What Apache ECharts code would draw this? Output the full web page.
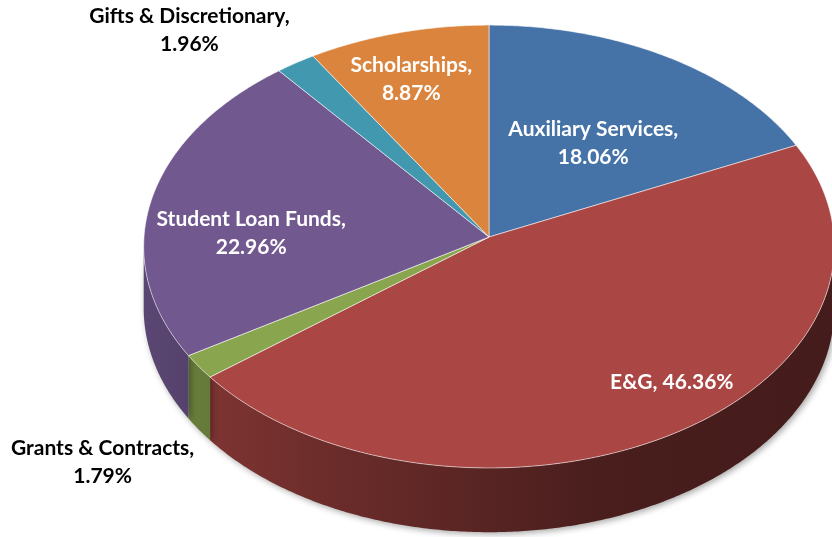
<!DOCTYPE html>
<html>
<head>
<meta charset="utf-8">
<script src="https://cdn.jsdelivr.net/npm/echarts@6/dist/echarts.min.js"></script>
<style>
  html, body { margin: 0; padding: 0; background: #fff; }
  #chart { width: 832px; height: 537px; }
</style>
</head>
<body>
<div id="chart"></div>
<script>
// Fund categories, clockwise from 12 o'clock
const categories = [
  'Auxiliary Services',
  'E&G',
  'Grants & Contracts',
  'Student Loan Funds',
  'Gifts & Discretionary',
  'Scholarships'
];
// Share of total, percent
const shares = [18.06, 46.36, 1.79, 22.96, 1.96, 8.87];

// Slice colours (top face); side walls are shaded from these
const colors = ['#4572A7', '#AA4643', '#89A54E', '#71588F', '#4198AF', '#DB843D'];

// Label placement around each slice: radius as a fraction of the disc,
// angular nudge (degrees) from the slice middle, and whether it sits inside
const labelPlacement = [
  { r: 0.53, nudge: 3.0,  inside: true,  oneLine: false },
  { r: 0.82, nudge: -7.4, inside: true,  oneLine: true  },
  { r: 1.45, nudge: -7.4, inside: false, oneLine: false },
  { r: 0.69, nudge: -8.2, inside: true,  oneLine: false },
  { r: 1.33, nudge: -7.4, inside: false, oneLine: false },
  { r: 0.77, nudge: -1.6, inside: true,  oneLine: false }
];

// Perspective view of the disc
const VIEW = {
  cx: 489,        // screen x of the disc centre
  cy: 237,        // screen y of the disc centre (top face)
  k: 345,         // horizontal radius scale
  kv: 221,        // vertical radius scale
  persp: 0.043,   // perspective strength (near side larger)
  depth: 61.5     // thickness of the disc
};

const total = shares.reduce((a, b) => a + b, 0);
const startAngles = [];
(function () {
  let acc = 0;
  shares.forEach(v => { startAngles.push(acc / total * 360); acc += v; });
})();

const rad = d => d * Math.PI / 180;

// Project a point on the disc (polar: r, angle clockwise from top) to the screen.
function project(r, deg, down) {
  const X = r * Math.sin(rad(deg));
  const Y = r * Math.cos(rad(deg));
  const w = 1 + VIEW.persp * Y;
  return [
    VIEW.cx + VIEW.k * X / w,
    VIEW.cy - VIEW.kv * Y / w + (down ? VIEW.depth / w : 0)
  ];
}

function arc(a0, a1, down) {
  const pts = [];
  const n = Math.max(2, Math.ceil(Math.abs(a1 - a0) / 0.5));
  for (let i = 0; i <= n; i++) pts.push(project(1, a0 + (a1 - a0) * i / n, down));
  return pts;
}

function shade(hex, f) {
  const n = parseInt(hex.slice(1), 16);
  const r = Math.round(((n >> 16) & 255) * f);
  const g = Math.round(((n >> 8) & 255) * f);
  const b = Math.round((n & 255) * f);
  return 'rgb(' + r + ',' + g + ',' + b + ')';
}

// Visible rim lies between the two silhouette points of the disc
const silhouette = Math.acos(-VIEW.persp) * 180 / Math.PI; // ~92.5 deg
const rimLo = silhouette, rimHi = 360 - silhouette;

const data = shares.map((v, i) => [i, v]);

function renderSide(params, api) {
  const i = api.value(0);
  const a0 = startAngles[i];
  const a1 = a0 + api.value(1) / total * 360;
  const lo = Math.max(a0, rimLo), hi = Math.min(a1, rimHi);
  if (hi <= lo) return null;
  const top = arc(lo, hi, false);
  const bottom = arc(hi, lo, true);
  const left = VIEW.cx - VIEW.k, right = VIEW.cx + VIEW.k;
  const c = colors[i];
  return {
    type: 'polygon',
    shape: { points: top.concat(bottom) },
    style: {
      fill: new echarts.graphic.LinearGradient(left, 0, right, 0, [
        { offset: 0, color: shade(c, 0.80) },
        { offset: 0.23, color: shade(c, 0.65) },
        { offset: 0.66, color: shade(c, 0.43) },
        { offset: 1, color: shade(c, 0.40) }
      ], true),
      stroke: null,
      shadowBlur: 6,
      shadowColor: 'rgba(0,0,0,0.35)',
      shadowOffsetX: 2,
      shadowOffsetY: 2
    }
  };
}

function renderTop(params, api) {
  const i = api.value(0);
  const a0 = startAngles[i];
  const a1 = a0 + api.value(1) / total * 360;
  const pts = [project(0, 0, false)].concat(arc(a0, a1, false));
  const lp = labelPlacement[i];
  const mid = (a0 + a1) / 2 + lp.nudge;
  const pos = project(lp.r, mid, false);
  const pct = shares[i].toFixed(2) + '%';
  const text = lp.oneLine ? categories[i] + ', ' + pct : categories[i] + ',\n' + pct;
  return {
    type: 'group',
    children: [
      {
        type: 'polygon',
        shape: { points: pts },
        style: {
          fill: colors[i],
          stroke: 'rgba(255,255,255,0.55)',
          lineWidth: 1
        }
      },
      {
        type: 'text',
        z2: 10,
        x: pos[0],
        y: pos[1],
        style: {
          text: text,
          fill: lp.inside ? '#ffffff' : '#000000',
          font: 'bold 21px Lato',
          align: 'center',
          verticalAlign: 'middle',
          lineHeight: 28
        }
      }
    ]
  };
}

const chart = echarts.init(document.getElementById('chart'), null, { renderer: 'canvas' });
chart.setOption({
  animation: false,
  backgroundColor: '#ffffff',
  series: [
    { type: 'custom', name: 'side', coordinateSystem: 'none', z: 1, data: data, renderItem: renderSide },
    { type: 'custom', name: 'top', coordinateSystem: 'none', z: 2, data: data, renderItem: renderTop }
  ]
});
</script>
</body>
</html>
